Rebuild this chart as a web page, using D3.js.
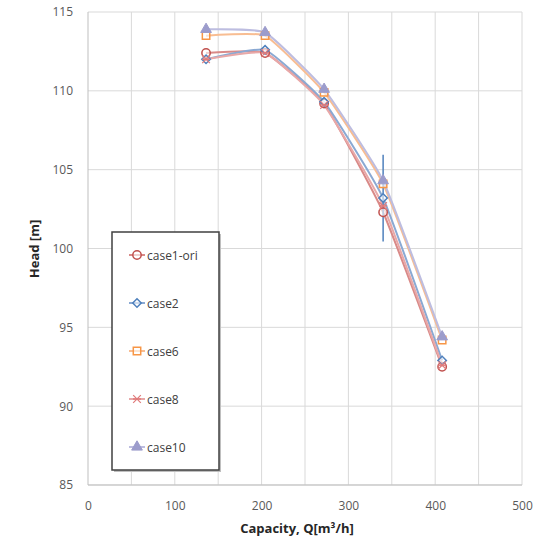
<!DOCTYPE html>
<html><head><meta charset="utf-8">
<script src="https://cdn.jsdelivr.net/npm/d3@7/dist/d3.min.js"></script>
<style>body{margin:0;background:#fff}svg{display:block}text{font-family:"Open Sans","Noto Sans",sans-serif}</style>
</head><body><svg id="c" width="544" height="545"></svg>
<script>
const capacity = [136, 204, 272, 340, 408];
const case1 = [112.4, 112.4, 109.2, 102.3, 92.5];
const case2 = [112.0, 112.6, 109.3, 103.2, 92.9];
const case6 = [113.5, 113.5, 109.9, 104.1, 94.2];
const case8 = [112.0, 112.4, 109.1, 102.7, 92.6];
const case10 = [113.9, 113.7, 110.1, 104.3, 94.4];
const case2Err = [0, 0, 0, 2.75, 0];
const xTicks = [0, 100, 200, 300, 400, 500];
const yTicks = [85, 90, 95, 100, 105, 110, 115];
const seriesNames = ["case1-ori", "case2", "case6", "case8", "case10"];

const series = [
  {name: seriesNames[0], vals: case1, color: "#c0504d", line: "#d98a88", sym: "circle"},
  {name: seriesNames[1], vals: case2, color: "#4f81bd", line: "#8aa9d3", sym: "diamond"},
  {name: seriesNames[2], vals: case6, color: "#f79646", line: "#f8bd92", sym: "square"},
  {name: seriesNames[3], vals: case8, color: "#e07b7b", line: "#e8a8a8", sym: "star"},
  {name: seriesNames[4], vals: case10, color: "#9c9ccc", line: "#bdbde0", sym: "triangle"}
];

const svg = d3.select("#c");
const L = 88, R = 522, T = 12, B = 485;
const x = d3.scaleLinear().domain([0, 500]).range([L, R]);
const y = d3.scaleLinear().domain([85, 115]).range([B, T]);

// grid
const g = svg.append("g");
g.selectAll(".vg").data(d3.range(50, 501, 50)).join("line")
  .attr("x1", d => x(d)).attr("x2", d => x(d)).attr("y1", T).attr("y2", B)
  .attr("stroke", "#d9d9d9").attr("stroke-width", 1);
g.selectAll(".hg").data(yTicks).join("line")
  .attr("x1", L).attr("x2", R).attr("y1", d => y(d)).attr("y2", d => y(d))
  .attr("stroke", "#d9d9d9").attr("stroke-width", 1);
g.append("line").attr("x1", L).attr("x2", L).attr("y1", T).attr("y2", B).attr("stroke", "#bfbfbf");
g.append("line").attr("x1", L).attr("x2", R).attr("y1", B).attr("y2", B).attr("stroke", "#bfbfbf");

// axes labels
const xAxis = d3.axisBottom(x).tickValues(xTicks).tickSize(0).tickPadding(16);
const xa = svg.append("g").attr("transform", `translate(0,${B})`).call(xAxis);
xa.select(".domain").remove();
xa.selectAll("text").attr("fill", "#595959").attr("font-size", 12);
const yAxis = d3.axisLeft(y).tickValues(yTicks).tickSize(0).tickPadding(15);
const ya = svg.append("g").attr("transform", `translate(${L},0)`).call(yAxis);
ya.select(".domain").remove();
ya.selectAll("text").attr("fill", "#595959").attr("font-size", 12);

svg.append("text").attr("x", 297).attr("y", 533).attr("text-anchor", "middle")
  .attr("font-size", 13).attr("font-weight", "bold").attr("fill", "#262626").text("Capacity, Q[m³/h]");
svg.append("text").attr("transform", "translate(39,249) rotate(-90)").attr("text-anchor", "middle")
  .attr("font-size", 13).attr("font-weight", "bold").attr("fill", "#262626").text("Head [m]");

const symType = {circle: d3.symbolCircle, diamond: d3.symbolSquare, square: d3.symbolSquare, star: d3.symbolX, triangle: d3.symbolTriangle};
const symSize = {circle: 55, diamond: 36, square: 55, star: 40, triangle: 50};

const lineGen = d3.line().x(d => x(d[0])).y(d => y(d[1])).curve(d3.curveCardinal.tension(0.6));

series.forEach(s => {
  const pts = capacity.map((c, i) => [c, s.vals[i]]);
  svg.append("path").attr("d", lineGen(pts)).attr("fill", "none")
    .attr("stroke", s.line).attr("stroke-width", 2);
});

// error bar on case2
capacity.forEach((c, i) => {
  if (case2Err[i] > 0) {
    svg.append("line").attr("x1", x(c)).attr("x2", x(c))
      .attr("y1", y(case2[i] + case2Err[i])).attr("y2", y(case2[i] - case2Err[i]))
      .attr("stroke", "#4f81bd").attr("stroke-width", 1.5);
  }
});

function drawMarker(sel, s, cx, cy) {
  const p = d3.symbol().type(symType[s.sym]).size(symSize[s.sym])();
  const rot = s.sym === "diamond" ? " rotate(45)" : "";
  const el = sel.append("path").attr("d", p).attr("transform", `translate(${cx},${cy})${rot}`);
  if (s.sym === "triangle") el.attr("fill", s.color).attr("stroke", s.color).attr("stroke-width", 1);
  else if (s.sym === "star") {
    el.attr("fill", s.color).attr("stroke", s.color).attr("stroke-width", 1.2);
    sel.append("line").attr("x1", cx - 4).attr("x2", cx + 4).attr("y1", cy).attr("y2", cy).attr("stroke", s.color).attr("stroke-width", 1.5);
  }
  else el.attr("fill", "#fff").attr("fill-opacity", 0.6).attr("stroke", s.color).attr("stroke-width", 1.5);
}

series.forEach(s => {
  capacity.forEach((c, i) => drawMarker(svg, s, x(c), y(s.vals[i])));
});

// legend
const lg = svg.append("g");
lg.append("rect").attr("x", 114).attr("y", 234).attr("width", 107).attr("height", 238).attr("fill", "#bfbfbf");
lg.append("rect").attr("x", 112).attr("y", 232).attr("width", 107).attr("height", 238)
  .attr("fill", "#fff").attr("stroke", "#404040").attr("stroke-width", 1.5);
series.forEach((s, i) => {
  const cy = 255 + i * 48;
  lg.append("line").attr("x1", 129).attr("x2", 145).attr("y1", cy).attr("y2", cy).attr("stroke", s.line).attr("stroke-width", 2);
  drawMarker(lg, s, 137, cy);
  lg.append("text").attr("x", 147).attr("y", cy + 4.5).attr("font-size", 12).attr("fill", "#404040").text(s.name);
});
</script></body></html>
